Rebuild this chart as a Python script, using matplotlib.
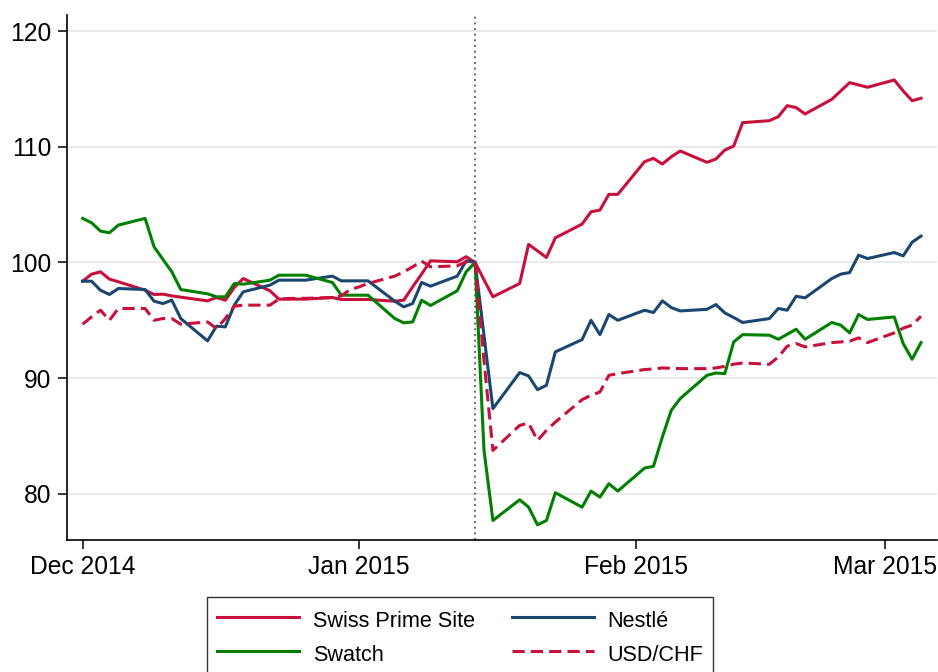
import matplotlib
matplotlib.use("Agg")
import matplotlib.pyplot as plt
import matplotlib.dates as mdates
import pandas as pd

plt.rcParams['font.family'] = ['Liberation Sans', 'DejaVu Sans']

# trading days (weekdays), holidays carry the previous value as drawn
dates = pd.bdate_range("2014-12-01", "2015-03-05")
event_day = pd.Timestamp("2015-01-14")

swiss_prime_site = [
    98.38, 98.99, 99.19, 98.56, 98.33,
    97.60, 97.23, 97.26, 97.11, 97.00,
    96.68, 96.97, 96.74, 97.84, 98.61,
    97.55, 96.83, 96.83, 96.83, 96.83,
    96.97, 96.80, 96.80,
    96.80, 96.80,
    96.65, 96.74, 97.89, 98.99, 100.14,
    100.06, 100.50, 100.00, 98.50, 97.03,
    98.18, 101.56, 101.00, 100.43, 102.13,
    103.32, 104.38, 104.53, 105.89, 105.89,
    108.71, 109.00, 108.51, 109.14, 109.64,
    108.66, 108.94, 109.72, 110.07, 112.09,
    112.26, 112.61, 113.56, 113.39, 112.84,
    114.11, 114.83, 115.55, 115.35, 115.15,
    115.78, 114.83, 113.99, 114.20,
]

nestle = [
    98.38, 98.38, 97.60, 97.23, 97.75,
    97.66, 96.65, 96.45, 96.74, 95.15,
    93.22, 94.49, 94.43, 96.31, 97.46,
    98.04, 98.47, 98.47, 98.47, 98.47,
    98.82, 98.41, 98.41,
    98.41, 98.41,
    96.65, 96.16, 96.45, 98.27, 97.95,
    98.82, 100.14, 100.00, 93.70, 87.36,
    90.48, 90.19, 89.00, 89.38, 92.27,
    93.33, 95.00, 93.76, 95.50, 95.00,
    95.87, 95.67, 96.68, 96.10, 95.81,
    95.95, 96.36, 95.64, 95.24, 94.81,
    95.15, 96.02, 95.87, 97.08, 96.94,
    98.61, 98.99, 99.13, 100.63, 100.34,
    100.86, 100.57, 101.75, 102.28,
]

swatch = [
    103.81, 103.43, 102.71, 102.57, 103.23,
    103.81, 101.36, 100.26, 99.19, 97.66,
    97.29, 97.03, 97.03, 98.18, 98.12,
    98.47, 98.90, 98.90, 98.90, 98.90,
    98.27, 97.17, 97.17,
    97.17, 97.17,
    95.15, 94.78, 94.86, 96.74, 96.28,
    97.55, 99.19, 100.00, 83.75, 77.69,
    79.48, 78.84, 77.31, 77.69, 80.09,
    78.84, 80.23, 79.71, 80.87, 80.23,
    82.22, 82.37, 84.91, 87.22, 88.23,
    90.24, 90.44, 90.39, 93.13, 93.76,
    93.71, 93.36, 93.79, 94.23, 93.36,
    94.81, 94.58, 93.91, 95.50, 95.07,
    95.29, 92.99, 91.63, 93.07,
]

usd_chf = [
    94.66, 95.30, 95.87, 95.00, 96.02,
    96.02, 95.00, 95.15, 95.15, 94.66,
    94.86, 94.29, 95.15, 96.22, 96.31,
    96.31, 96.83, 96.88, 96.90, 96.90,
    96.97, 97.11, 97.66,
    97.89, 98.18,
    98.82, 99.19, 99.62, 100.12, 99.62,
    99.71, 100.06, 100.00, 91.50, 83.75,
    85.91, 86.11, 84.61, 85.48, 86.20,
    88.14, 88.51, 88.80, 90.24, 90.39,
    90.74, 90.79, 90.88, 90.85, 90.82,
    90.82, 90.88, 91.02, 91.20, 91.31,
    91.20, 91.83, 92.76, 92.99, 92.70,
    93.07, 93.13, 93.19, 93.48, 93.07,
    93.91, 94.32, 94.58, 95.35,
]

red = "#C8103C"
navy = "#1A476F"
green = "#008000"

fig = plt.figure(figsize=(9.38, 6.72), dpi=100)
ax = fig.add_axes([0.0714, 0.1964, 0.9276, 0.7813])

for y in [80, 90, 100, 110, 120]:
    ax.axhline(y, color="#E6E6E6", lw=1.2, zorder=0)
ax.axvline(event_day, color="#555555", lw=1.2, dashes=(1.2, 2.2), zorder=1)

l_sps, = ax.plot(dates, swiss_prime_site, color=red, lw=2.2, label="Swiss Prime Site")
l_nes, = ax.plot(dates, nestle, color=navy, lw=2.2, label="Nestlé")
l_swa, = ax.plot(dates, swatch, color=green, lw=2.2, label="Swatch")
l_usd, = ax.plot(dates, usd_chf, color=red, lw=2.2, dashes=(4, 2), label="USD/CHF")

ax.set_ylim(76.0, 121.4)
ax.set_xlim(pd.Timestamp("2014-12-01") - pd.Timedelta(days=1.76),
            pd.Timestamp("2014-12-01") + pd.Timedelta(days=95.8))
ax.set_yticks([80, 90, 100, 110, 120])
ax.set_xticks(pd.to_datetime(["2014-12-01", "2015-01-01", "2015-02-01", "2015-03-01"]))
ax.xaxis.set_major_formatter(mdates.DateFormatter("%b %Y"))
ax.tick_params(axis="both", labelsize=17.7, length=6.5, width=1.1, color="black")
ax.tick_params(axis="y", pad=5)
ax.tick_params(axis="x", pad=4.5)

for side in ["top", "right"]:
    ax.spines[side].set_visible(False)
for side in ["left", "bottom"]:
    ax.spines[side].set_linewidth(1.2)
    ax.spines[side].set_color("black")

leg = fig.legend(handles=[l_sps, l_swa, l_nes, l_usd], ncol=2,
                 loc="upper left", bbox_to_anchor=(207 / 938, 1 - 597 / 672),
                 fontsize=15.6, frameon=True, fancybox=False,
                 handlelength=3.8, handleheight=1.5, handletextpad=0.63,
                 columnspacing=1.7, labelspacing=0.36, borderpad=0.45,
                 borderaxespad=0)
leg.get_frame().set_edgecolor("black")
leg.get_frame().set_linewidth(1.0)

fig.savefig("out.png", dpi=100)
